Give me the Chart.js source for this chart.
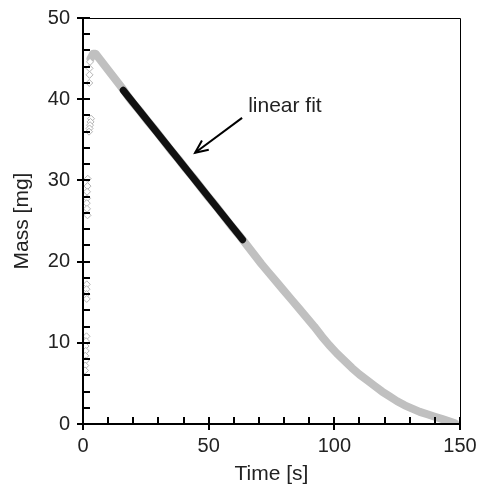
<!DOCTYPE html>
<html>
<head>
<meta charset="utf-8">
<script src="https://cdn.jsdelivr.net/npm/chart.js@4.4.1/dist/chart.umd.min.js"></script>
<style>
  html, body { margin: 0; padding: 0; background: #fff; }
  #wrap { width: 477px; height: 485px; }
</style>
</head>
<body>
<div id="wrap"><canvas id="massChart" width="477" height="485"></canvas></div>
<script>
const timeMain = [3, 4, 5, 6, 7, 8, 10, 12, 14, 16, 18, 20, 23, 26, 29, 32, 35, 38, 41, 44, 47, 50, 53, 56, 59, 62,
  65, 68, 71, 74, 77, 80, 83, 86, 89, 92, 95, 98, 101, 104, 107, 110, 113, 116, 119, 122, 125, 128, 131, 134, 137, 140, 143, 146, 148];
const massMain = [45.0, 45.6, 45.6, 45.2, 44.8, 44.4, 43.6, 42.8, 42.0, 41.2, 40.3, 39.5, 38.4, 37.2, 36.1, 34.9, 33.7, 32.6, 31.4, 30.3, 29.1, 27.9, 26.8, 25.6, 24.4, 23.3,
  22.1, 20.9, 19.7, 18.6, 17.5, 16.4, 15.3, 14.2, 13.1, 12.0, 10.8, 9.7, 8.7, 7.8, 6.9, 6.1, 5.4, 4.7, 4.0, 3.4, 2.8, 2.3, 1.9, 1.5, 1.2, 0.9, 0.6, 0.3, 0.1];

// scattered early readings (open diamonds)
const timeEarly = [2.8, 2.6, 2.6, 2.5, 3.2, 3.0, 2.8, 2.6, 2.4, 1.9, 1.8, 1.6, 1.6, 1.5, 1.6, 1.8, 1.5, 1.4, 1.4, 1.5, 1.4, 1.2, 1.0, 1.1, 0.9, 1.0, 0.9, 0.8];
const massEarly = [44.6, 43.8, 43.0, 42.0, 37.6, 37.2, 36.8, 36.4, 36.0, 30.2, 29.3, 28.6, 27.8, 27.2, 26.5, 25.7, 17.2, 16.6, 16.0, 15.4, 10.8, 10.2, 9.6, 9.0, 8.4, 7.8, 7.2, 6.6];

// linear fit segment
const timeFit = [16, 63.5];
const massFit = [41.1, 22.7];

// annotation
const arrowFrom = [63.3, 37.7];
const arrowTo = [44.6, 33.4];
const noteText = "linear fit";
const notePos = [65.7, 38.4];

const xTicks = [0, 50, 100, 150];
const yTicks = [0, 10, 20, 30, 40, 50];

function toPoints(xs, ys) {
  return xs.map((x, i) => ({ x: x, y: ys[i] }));
}

const FONT = "'Liberation Sans', Arial, sans-serif";

// frame, inner/minor ticks, arrow and note
const framePlugin = {
  id: "frame",
  afterDraw(chart) {
    const ctx = chart.ctx;
    const xs = chart.scales.x, ys = chart.scales.y;
    const a = chart.chartArea;
    ctx.save();
    ctx.strokeStyle = "#000";
    // top and right border
    ctx.lineWidth = 1;
    ctx.beginPath();
    ctx.moveTo(a.left, a.top + 0.5);
    ctx.lineTo(a.right + 0.5, a.top + 0.5);
    ctx.lineTo(a.right + 0.5, a.bottom);
    ctx.stroke();
    // left and bottom axis
    ctx.lineWidth = 2;
    ctx.beginPath();
    ctx.moveTo(a.left, a.top);
    ctx.lineTo(a.left, a.bottom);
    ctx.lineTo(a.right + 1, a.bottom);
    ctx.stroke();
    // ticks on x
    for (let v = 0; v <= 150; v += 10) {
      const px = Math.round(xs.getPixelForValue(v));
      const major = v % 50 === 0;
      ctx.beginPath();
      ctx.moveTo(px, a.bottom + (major ? 6 : 0));
      ctx.lineTo(px, a.bottom - 7);
      ctx.stroke();
    }
    // ticks on y
    for (let v = 0; v <= 50; v += 2) {
      const py = Math.round(ys.getPixelForValue(v));
      const major = v % 10 === 0;
      ctx.beginPath();
      ctx.moveTo(a.left - (major ? 6 : 0), py);
      ctx.lineTo(a.left + 7, py);
      ctx.stroke();
    }
    // arrow
    const x1 = xs.getPixelForValue(arrowFrom[0]), y1 = ys.getPixelForValue(arrowFrom[1]);
    const x2 = xs.getPixelForValue(arrowTo[0]), y2 = ys.getPixelForValue(arrowTo[1]);
    ctx.lineWidth = 2;
    ctx.beginPath();
    ctx.moveTo(x1, y1);
    ctx.lineTo(x2, y2);
    ctx.stroke();
    const ang = Math.atan2(y2 - y1, x2 - x1);
    const head = 14;
    ctx.beginPath();
    ctx.moveTo(x2 - head * Math.cos(ang - 0.42), y2 - head * Math.sin(ang - 0.42));
    ctx.lineTo(x2, y2);
    ctx.lineTo(x2 - head * Math.cos(ang + 0.42), y2 - head * Math.sin(ang + 0.42));
    ctx.stroke();
    // note
    ctx.fillStyle = "#222";
    ctx.font = "21px " + FONT;
    ctx.textAlign = "left";
    ctx.textBaseline = "alphabetic";
    ctx.fillText(noteText, xs.getPixelForValue(notePos[0]), ys.getPixelForValue(notePos[1]));
    ctx.restore();
  }
};

const ctx = document.getElementById("massChart").getContext("2d");
const massChart = new Chart(ctx, {
  type: "scatter",
  data: {
    // first dataset is painted last (on top)
    datasets: [
      {
        label: "fit",
        data: toPoints(timeFit, massFit),
        showLine: true,
        borderColor: "#111",
        borderWidth: 7,
        borderCapStyle: "round",
        pointRadius: 0
      },
      {
        label: "early",
        data: toPoints(timeEarly, massEarly),
        pointStyle: "rectRot",
        pointRadius: 3.5,
        backgroundColor: "#fff",
        borderColor: "#b4b4b4",
        borderWidth: 1
      },
      {
        label: "mass",
        data: toPoints(timeMain, massMain),
        showLine: true,
        borderColor: "#c0c0c0",
        borderWidth: 8,
        borderCapStyle: "round",
        borderJoinStyle: "round",
        pointRadius: 0
      }
    ]
  },
  options: {
    responsive: false,
    animation: false,
    layout: { padding: { top: 18, right: 17, left: 0, bottom: 0 } },
    plugins: { legend: { display: false }, tooltip: { enabled: false } },
    scales: {
      x: {
        type: "linear",
        min: 0,
        max: 150,
        afterFit(scale) {
          scale.height = 61;
          scale.paddingLeft = 0;
          scale.paddingRight = 0;
        },
        afterBuildTicks(scale) { scale.ticks = xTicks.map(v => ({ value: v })); },
        grid: { display: false, drawTicks: false },
        border: { display: false },
        ticks: { color: "#222", font: { family: FONT, size: 20 }, padding: 10, maxRotation: 0 },
        title: { display: true, text: "Time [s]", color: "#222", font: { family: FONT, size: 21, lineHeight: 1 }, padding: { top: 0, bottom: 0 } }
      },
      y: {
        type: "linear",
        min: 0,
        max: 50,
        afterFit(scale) {
          scale.width = 83;
          scale.paddingTop = 0;
          scale.paddingBottom = 0;
        },
        afterBuildTicks(scale) { scale.ticks = yTicks.map(v => ({ value: v })); },
        grid: { display: false, drawTicks: false },
        border: { display: false },
        ticks: { color: "#222", font: { family: FONT, size: 20 }, padding: 13 },
        title: { display: true, text: "Mass [mg]", color: "#222", font: { family: FONT, size: 21, lineHeight: 1 }, padding: { top: 12, bottom: 0 } }
      }
    }
  },
  plugins: [framePlugin]
});
</script>
</body>
</html>
